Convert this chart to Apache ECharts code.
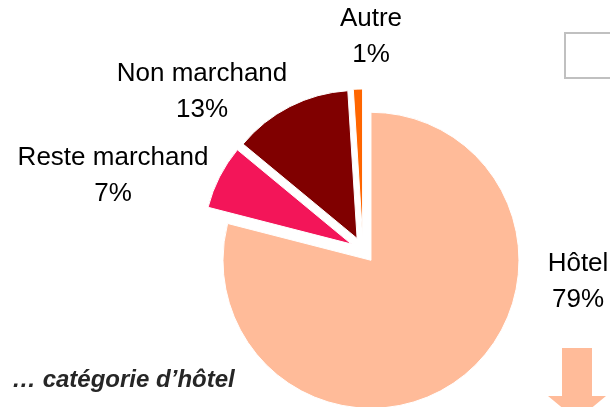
<!DOCTYPE html>
<html>
<head>
<meta charset="utf-8">
<script src="https://cdn.jsdelivr.net/npm/echarts@6/dist/echarts.min.js"></script>
<style>
  html, body { margin: 0; padding: 0; background: #fff; }
  #chart { width: 610px; height: 407px; }
</style>
</head>
<body>
<div id="chart"></div>
<script>
// parts of the pie, clockwise from 12 o'clock
const categories = ["Hôtel", "Reste marchand", "Non marchand", "Autre"];
const shares = [79, 7, 13, 1];
const colors = ["#FFBB99", "#F31559", "#800000", "#FF6600"];
// label block: horizontal centre, top of first line
const labelPos = [[578, 246], [113, 140], [202, 56], [371, 1]];

var myChart = echarts.init(document.getElementById("chart"));

// slice labels as plain text blocks, built from the data above
var labelTexts = categories.map((c, i) => ({
  type: "text",
  x: labelPos[i][0],
  y: labelPos[i][1],
  style: {
    text: c + "\n" + shares[i] + "%",
    fill: "#000",
    align: "center",
    verticalAlign: "top",
    lineHeight: 36,
    font: "26px Liberation Sans, Arial, sans-serif",
  },
}));

var option = {
  animation: false,
  backgroundColor: "#fff",
  series: [
    {
      type: "pie",
      center: [363, 250],
      radius: [0, 148],
      startAngle: 90,
      clockwise: true,
      selectedMode: "multiple",
      selectedOffset: 13,
      emphasis: { disabled: true },
      itemStyle: { borderColor: "#fff", borderWidth: 1 },
      label: { show: false },
      labelLine: { show: false },
      data: categories.map((c, i) => ({
        name: c,
        value: shares[i],
        selected: true,
        itemStyle: { color: colors[i] },
      })),
    },
  ],
  graphic: labelTexts.concat([
    // box cut by the right edge
    {
      type: "rect",
      shape: { x: 565, y: 33, width: 60, height: 45 },
      style: { fill: "#fff", stroke: "#c0c0c0", lineWidth: 2 },
    },
    // down arrow
    {
      type: "polygon",
      shape: {
        points: [[562, 348], [592, 348], [592, 396], [606, 396], [577, 420], [548, 396], [562, 396]],
      },
      style: { fill: "#FFBB99" },
    },
    {
      type: "text",
      x: 12,
      y: 380,
      style: {
        text: "… catégorie d’hôtel",
        fill: "#262626",
        verticalAlign: "middle",
        font: "italic bold 24px Liberation Sans, Arial, sans-serif",
      },
    },
  ]),
};

myChart.setOption(option);
</script>
</body>
</html>
